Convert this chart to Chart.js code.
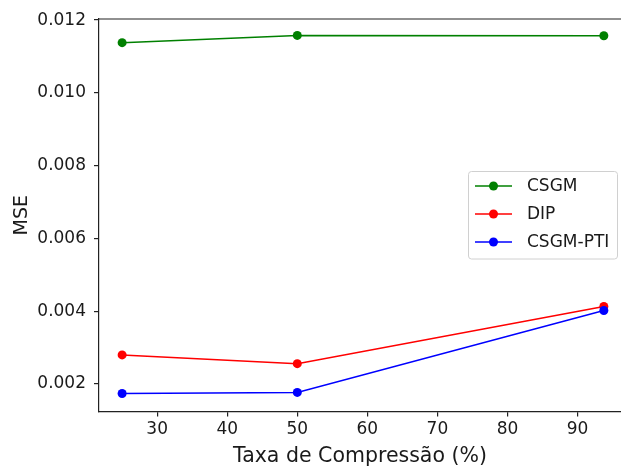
<!DOCTYPE html>
<html><head><meta charset="utf-8">
<script src="https://cdn.jsdelivr.net/npm/chart.js@4"></script>
<style>html,body{margin:0;padding:0;background:#fff;overflow:hidden}</style>
</head><body>
<div style="width:621px;height:466px"><canvas id="c" width="621" height="466"></canvas></div>
<script>
const compressionRates = [25, 50, 93.75];
const seriesNames = ['CSGM', 'DIP', 'CSGM-PTI'];
const seriesColors = ['#008000', '#ff0000', '#0000ff'];
const csgm = [0.01138, 0.01158, 0.01157];
const dip = [0.00280, 0.00256, 0.00413];
const csgmPti = [0.00174, 0.00177, 0.00402];
const xTicks = [30, 40, 50, 60, 70, 80, 90];
const yTicks = [0.002, 0.004, 0.006, 0.008, 0.010, 0.012];
const xTitle = 'Taxa de Compressão (%)';
const yTitle = 'MSE';

const FONT = 'DejaVu Sans';
const allSeries = [csgm, dip, csgmPti];

const datasets = allSeries.map((vals, i) => ({
  label: seriesNames[i],
  data: compressionRates.map((x, j) => ({x: x, y: vals[j]})),
  borderColor: seriesColors[i],
  backgroundColor: seriesColors[i],
  pointBackgroundColor: seriesColors[i],
  pointBorderColor: seriesColors[i],
  borderWidth: 1.5,
  pointRadius: 4.5,
  pointBorderWidth: 0,
  tension: 0,
  order: allSeries.length - i
}));

const framePlugin = {
  id: 'frame',
  afterDraw(chart) {
    const ctx = chart.ctx, a = chart.chartArea;
    ctx.save();
    ctx.strokeStyle = '#222';
    ctx.lineWidth = 1.2;
    ctx.beginPath();
    ctx.moveTo(a.left, a.top);
    ctx.lineTo(a.right, a.top);
    ctx.stroke();
    // legend
    const bx = 468.5, by = 171.5, bw = 149, bh = 87.5;
    ctx.fillStyle = 'rgba(255,255,255,0.85)';
    ctx.strokeStyle = '#d0d0d0';
    ctx.lineWidth = 1;
    ctx.beginPath();
    ctx.roundRect(bx, by, bw, bh, 3);
    ctx.fill();
    ctx.stroke();
    ctx.font = '17px "' + FONT + '"';
    ctx.textBaseline = 'middle';
    chart.data.datasets.forEach((ds, i) => {
      const y = 186 + i * 28;
      ctx.strokeStyle = ds.borderColor;
      ctx.lineWidth = 1.5;
      ctx.beginPath();
      ctx.moveTo(475, y);
      ctx.lineTo(512, y);
      ctx.stroke();
      ctx.fillStyle = ds.borderColor;
      ctx.beginPath();
      ctx.arc(493.5, y, 4.5, 0, Math.PI * 2);
      ctx.fill();
      ctx.fillStyle = '#1a1a1a';
      ctx.fillText(ds.label, 527, y + 1);
    });
    ctx.restore();
  }
};

new Chart(document.getElementById('c'), {
  type: 'line',
  data: {datasets: datasets},
  options: {
    responsive: false,
    animation: false,
    devicePixelRatio: 1,
    layout: {autoPadding: false, padding: {top: 19, right: 0, left: 0, bottom: 0}},
    plugins: {legend: {display: false}, tooltip: {enabled: false}},
    scales: {
      x: {
        type: 'linear',
        min: 21.7,
        max: 96.2,
        afterBuildTicks(s) { s.ticks = xTicks.map(v => ({value: v})); },
        afterFit(s) { s.height = 54.5; s.paddingRight = 0; s.paddingLeft = 0; },
        grid: {display: true, drawOnChartArea: false, tickLength: 5, color: '#222', lineWidth: 1.2},
        border: {display: true, color: '#222', width: 1.2},
        ticks: {font: {family: FONT, size: 17}, color: '#1a1a1a', padding: 3, maxRotation: 0},
        title: {display: true, text: xTitle, font: {family: FONT, size: 20.5, lineHeight: 0.9}, color: '#1a1a1a', padding: {top: 0, bottom: 0}}
      },
      y: {
        type: 'linear',
        min: 0.001246,
        max: 0.01203,
        afterBuildTicks(s) { s.ticks = yTicks.map(v => ({value: v})); },
        afterFit(s) { s.width = 99; },
        grid: {display: true, drawOnChartArea: false, tickLength: 5, color: '#222', lineWidth: 1.2},
        border: {display: true, color: '#222', width: 1.2},
        ticks: {font: {family: FONT, size: 17}, color: '#1a1a1a', padding: 8, callback: v => v.toFixed(3)},
        title: {display: true, text: yTitle, font: {family: FONT, size: 19}, color: '#1a1a1a', padding: {top: 11, bottom: 2}}
      }
    }
  },
  plugins: [framePlugin]
});
</script>
</body></html>
